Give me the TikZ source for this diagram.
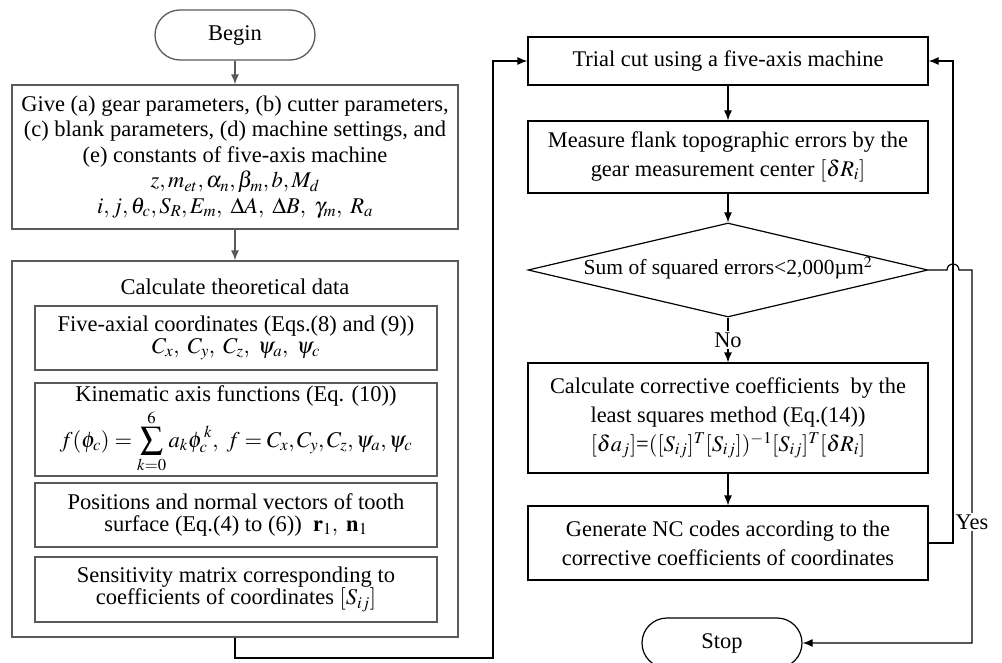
\documentclass[tikz,border=0pt]{standalone}
\usepackage{mathptmx}
\usepackage{fontspec}
\setmainfont{Liberation Serif}
\usetikzlibrary{shapes.geometric,arrows.meta}

\newcommand\lfnt{\fontsize{22.5}{22}\selectfont}
\newcommand\bfnt{\fontsize{22.5}{25.5}\selectfont}
\newcommand\rfnt{\fontsize{22.4}{29}\selectfont}
\newcommand\dfnt{\fontsize{21.5}{22}\selectfont}
\definecolor{lgray}{HTML}{5A5A5A}

\tikzset{
  lbox/.style={draw=lgray, line width=1.3pt, inner sep=0pt, align=center, font=\lfnt},
  rbox/.style={draw=black, line width=1.2pt, inner sep=0pt, align=center, font=\rfnt,
               minimum width=400pt},
  term/.style={draw=black, line width=1.2pt, rounded corners=25pt, minimum width=160pt,
               minimum height=50pt, inner sep=0pt, font=\rfnt},
  garrow/.style={draw=lgray, line width=1.3pt, -{Latex[length=10pt,width=8pt]}},
  barrow/.style={draw=black, line width=1.2pt, -{Latex[length=10pt,width=8pt]}},
  lbl/.style={fill=white, inner sep=1.5pt, font=\rfnt}
}

\begin{document}
\begin{tikzpicture}[x=1pt,y=-1pt]
\useasboundingbox[fill=white] (0,0) rectangle (1002,663);

% ---- left column: preparation ----
\node[term, draw=lgray, line width=1.3pt, font=\lfnt] (begin) at (235,35) {Begin};

\node[lbox, font=\bfnt, minimum width=446pt, minimum height=144pt] (input) at (235,157)
  {Give (a) gear parameters, (b) cutter parameters,\\
   (c) blank parameters, (d) machine settings, and\\
   (e) constants of five-axis machine\\
   $z, m_{et}, \alpha_n, \beta_m, b, M_d$\\
   $i, j, \theta_c, S_R, E_m,\ \Delta A,\ \Delta B,\ \gamma_m,\ R_a$};

\node[lbox, minimum width=446pt, minimum height=376pt] (theory) at (235,449) {};
\node[font=\lfnt, inner sep=0pt] (theorytitle) at (235,287) {Calculate theoretical data};

\node[lbox, minimum width=402pt, minimum height=64pt] (fiveax) at (236,338)
  {Five-axial coordinates (Eqs.(8) and (9))\\
   $C_x,\ C_y,\ C_z,\ \psi_a,\ \psi_c$};

\node[lbox, minimum width=402pt, minimum height=93pt] (kinem) at (236,429.5)
  {Kinematic axis functions (Eq. (10))\\[2pt]
   $\displaystyle f(\phi_c)=\sum_{k=0}^{6} a_k\phi_c^{\,k},\ f= C_x,C_y,C_z,\psi_a,\psi_c$};

\node[lbox, minimum width=402pt, minimum height=64pt] (posn) at (236,515)
  {Positions and normal vectors of tooth\\
   surface (Eq.(4) to (6))\ \ $\mathbf{r}_1,\ \mathbf{n}_1$};

\node[lbox, minimum width=402pt, minimum height=65pt] (sens) at (236,589.5)
  {Sensitivity matrix corresponding to\\
   coefficients of coordinates $[S_{ij}]$};

% ---- right column: correction loop ----
\node[rbox, minimum height=48pt] (trial) at (728,61)
  {Trial cut using a five-axis machine};

\node[rbox, minimum height=72pt] (measure) at (728,157)
  {Measure flank topographic errors by the\\
   gear measurement center $[\delta R_i]$};

\node[draw=black, line width=1.2pt, shape=diamond, inner sep=0pt,
      minimum width=400pt, minimum height=94pt] (check) at (728,270) {};
\node[font=\dfnt, inner sep=0pt] (checktext) at (728,268)
  {Sum of squared errors<2,000µm$^2$};

\node[rbox, minimum height=110pt] (coeff) at (728,418)
  {Calculate corrective coefficients\ \ by the\\
   least squares method (Eq.(14))\\
   $[\delta a_j]$=$([S_{ij}]^T[S_{ij}])^{-1}[S_{ij}]^T[\delta R_i]$};

\node[rbox, minimum height=74pt] (ncgen) at (728,543)
  {Generate NC codes according to the\\
   corrective coefficients of coordinates};

\node[term] (stop) at (722,643) {Stop};

% ---- connectors ----
\draw[garrow] (begin) -- (input);
\draw[garrow] (input) -- (theory);

\coordinate (c1) at (235,658);
\coordinate (c2) at (493,658);
\coordinate (c3) at (493,61);
\draw[barrow] (theory.south) -- (c1) -- (c2) -- (c3) -- (trial.west);

\draw[barrow] (trial) -- (measure);
\draw[barrow] (measure) -- (check.north);
\draw[barrow] (check.south) -- node[lbl, pos=0.5] (nolbl) {No} (coeff.north);
\draw[barrow] (coeff) -- (ncgen);

\coordinate (r1) at (953,543);
\coordinate (r2) at (953,61);
\draw[barrow] (ncgen.east) -- (r1) -- (r2) -- (trial.east);

\coordinate (h1) at (947,270);
\coordinate (y1) at (972,270);
\coordinate (y2) at (972,643);
\draw[barrow] (check.east) -- (h1) arc[start angle=180, end angle=0, radius=6pt]
  -- (y1) -- (y2) -- (stop.east);
\node[lbl] (yeslbl) at (972,522) {Yes};

\end{tikzpicture}
\end{document}
